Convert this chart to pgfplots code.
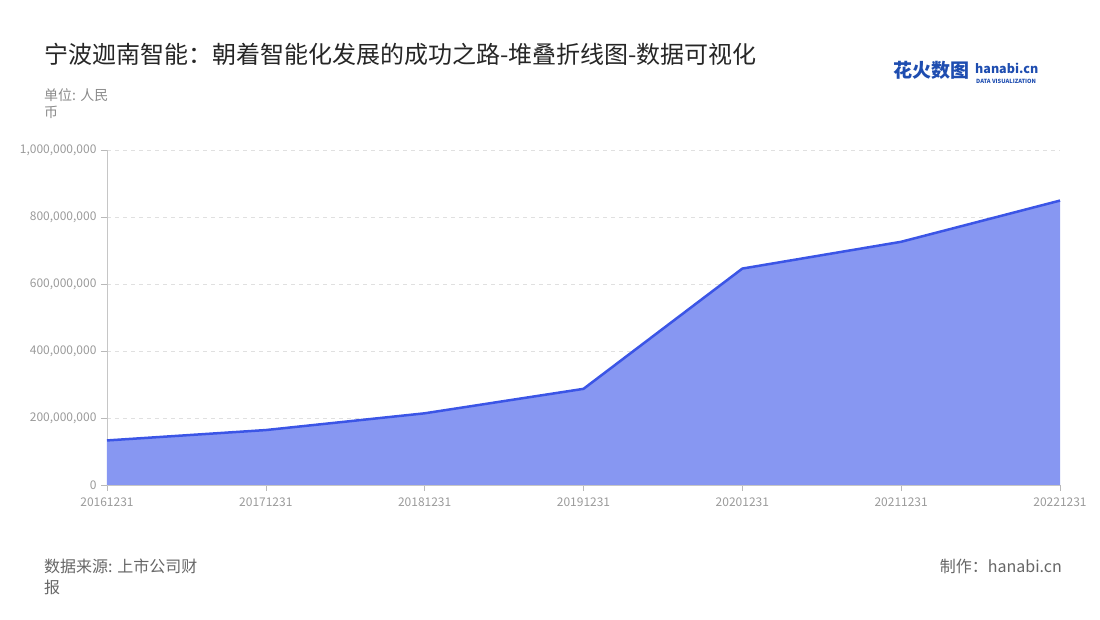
\documentclass[border=0pt]{standalone}
\usepackage{fontspec}
\setmainfont{Noto Sans CJK SC}
\usepackage{pgfplots}
\pgfplotsset{compat=1.18}
\definecolor{lineblue}{HTML}{3B55E6}
\definecolor{fillblue}{HTML}{8797F2}
\definecolor{ticktxt}{HTML}{9A9A9A}
\definecolor{gridc}{HTML}{E0E0E0}
\definecolor{logoblue}{HTML}{1E4DB0}

\begin{document}
\begin{tikzpicture}[x=1pt,y=1pt]
\useasboundingbox (0,0) rectangle (1100,620);

% title, unit, footers
\begin{scope}[every node/.style={inner sep=0pt}]
\node[anchor=base west, font=\fontsize{24}{28}\selectfont, text=black!85] at (44,556) {宁波迦南智能：朝着智能化发展的成功之路-堆叠折线图-数据可视化};
\node[anchor=base west, font=\fontsize{14}{16}\selectfont, text=ticktxt!90!black] at (44,519) {单位: 人民};
\node[anchor=base west, font=\fontsize{14}{16}\selectfont, text=ticktxt!90!black] at (44,502) {币};
\node[anchor=base west, font=\fontsize{16}{19}\selectfont, text=black!60] at (44,47) {数据来源: 上市公司财};
\node[anchor=base west, font=\fontsize{16}{19}\selectfont, text=black!60] at (44,26) {报};
\node[anchor=base east, font=\fontsize{16}{19}\selectfont, text=black!60] at (1062,47) {制作：hanabi.cn};

% logo
\node[anchor=base west, font=\fontsize{19}{22}\selectfont\bfseries, text=logoblue] at (893,542) {花火数图};
\node[anchor=base west, font=\fontsize{12.5}{15}\selectfont\bfseries, text=logoblue] at (975,546) {hanabi.cn};
\node[anchor=base west, font=\fontsize{5.7}{6}\selectfont\bfseries, text=logoblue] at (976,536.5) {DATA VISUALIZATION};
\end{scope}

\begin{axis}[
    at={(107pt,135pt)}, anchor=south west,
    scale only axis,
    width=953pt, height=335pt,
    xmin=0, xmax=6,
    ymin=0, ymax=1000000000,
    xtick={0,...,6},
    xticklabels={20161231,20171231,20181231,20191231,20201231,20211231,20221231},
    ytick={0,200000000,400000000,600000000,800000000,1000000000},
    scaled y ticks=false,
    /pgf/number format/fixed,
    /pgf/number format/1000 sep={,},
    /pgf/number format/assume math mode=true,
    ticklabel style={font=\fontsize{12}{14}\selectfont, text=ticktxt},
    xticklabel style={yshift=-3pt},
    yticklabel style={xshift=-1pt},
    axis x line*=bottom, axis y line*=left,
    x axis line style={draw=gray!45, line width=0.8pt},
    y axis line style={draw=gray!45, line width=0.8pt},
    major tick length=6pt,
    tick style={draw=gray!55, line width=0.6pt},
    xtick align=outside, ytick align=outside,
    ymajorgrids,
    major grid style={draw=gridc, dashed, dash pattern=on 4pt off 4pt, line width=0.8pt},
    clip=false,
]
\addplot[fill=fillblue, draw=none] coordinates {
    (0,133000000) (1,164000000) (2,214000000) (3,287000000)
    (4,646000000) (5,726000000) (6,849000000)
} \closedcycle;
\addplot[draw=lineblue, line width=2.5pt, line join=round, mark=none] coordinates {
    (0,133000000) (1,164000000) (2,214000000) (3,287000000)
    (4,646000000) (5,726000000) (6,849000000)
};
\end{axis}
\end{tikzpicture}
\end{document}
